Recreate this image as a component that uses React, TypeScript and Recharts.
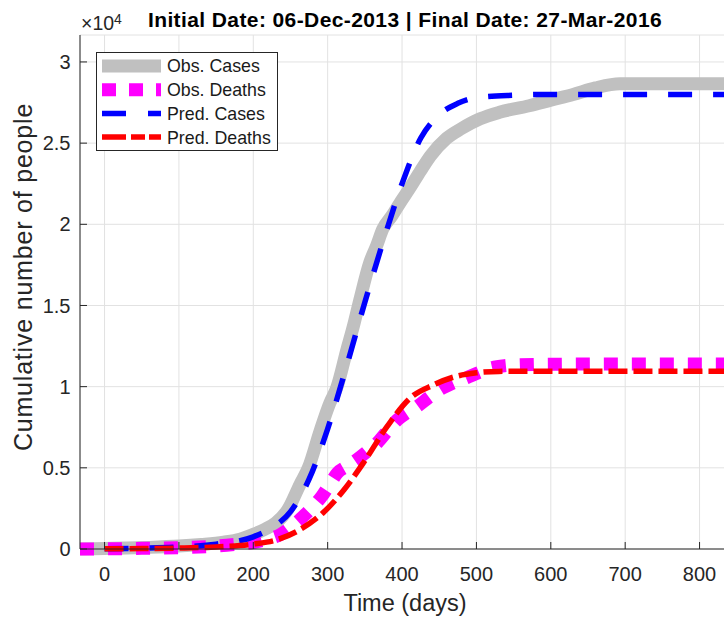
import React from 'react';
import { LineChart, Line, XAxis, YAxis, CartesianGrid, Legend } from 'recharts';

const FONT = '"Liberation Sans", Arial, Helvetica, sans-serif';
const AXIS = '#262626';

// observed cumulative cases (days since initial date)
const obsCaseDays = [-33, 0, 30, 60, 100, 130, 160, 182, 200, 215, 230, 246, 263, 274, 290, 303, 312, 326, 335, 343, 357, 366, 374, 386, 397, 410, 425, 438, 460, 480, 505, 531, 571, 600, 630, 660, 693, 750, 800, 840];
const obsCases = [0, 30, 60, 100, 180, 280, 420, 600, 900, 1200, 1600, 2400, 4000, 5000, 7300, 9000, 9900, 12300, 13800, 15300, 17700, 18700, 19700, 20500, 21300, 22200, 23300, 24200, 25300, 25900, 26500, 26900, 27300, 27650, 28000, 28400, 28650, 28650, 28650, 28650];

// observed cumulative deaths
const obsDeathDays = [-33, 0, 50, 100, 150, 180, 200, 220, 236, 252, 267, 280, 292, 303, 313, 326, 339, 353, 367, 380, 394, 407, 420, 435, 451, 470, 487, 505, 521, 540, 559, 600, 700, 840];
const obsDeaths = [0, 10, 40, 80, 180, 300, 400, 620, 880, 1400, 2000, 2600, 3240, 4000, 4680, 5100, 5500, 6000, 6550, 7250, 7970, 8400, 8770, 9300, 9820, 10250, 10550, 10900, 11170, 11300, 11350, 11380, 11400, 11400];

// model output
const predCaseDays = [0, 50, 100, 150, 200, 225, 250, 275, 300, 325, 350, 375, 400, 425, 450, 475, 500, 550, 600, 700, 840];
const predCases = [20, 50, 120, 300, 750, 1300, 2300, 4300, 7400, 11200, 15200, 19000, 22500, 25300, 26750, 27450, 27800, 27950, 28000, 28000, 28000];

const predDeathDays = [0, 50, 100, 150, 200, 232, 263, 294, 322, 348, 380, 411, 442, 470, 500, 530, 600, 700, 840];
const predDeaths = [10, 25, 60, 130, 300, 570, 1200, 2240, 3650, 5300, 7550, 9300, 10100, 10600, 10850, 10940, 10950, 10950, 10950];

const xTicks = [0, 100, 200, 300, 400, 500, 600, 700, 800];
const yTicks = [0, 5000, 10000, 15000, 20000, 25000, 30000];

const toPoints = (days: number[], vals: number[]) => days.map((x, i) => ({ x, y: vals[i] }));

const series = [
  { name: 'Obs. Cases', data: toPoints(obsCaseDays, obsCases), color: '#c0c0c0', width: 13, dash: undefined, legendDash: undefined },
  { name: 'Obs. Deaths', data: toPoints(obsDeathDays, obsDeaths), color: '#ff00ff', width: 13, dash: '14 14', legendDash: '14 13' },
  { name: 'Pred. Cases', data: toPoints(predCaseDays, predCases), color: '#0000ff', width: 5.5, dash: '24 21', legendDash: '24 22' },
  { name: 'Pred. Deaths', data: toPoints(predDeathDays, predDeaths), color: '#ff0000', width: 5.5, dash: '19 6', legendDash: '24 5 14 4 12' },
];

function LegendBox() {
  return (
    <svg width={182} height={99} style={{ display: 'block' }}>
      <rect x={0.5} y={0.5} width={181} height={98} fill="#fff" stroke={AXIS} />
      {series.map((s, i) => {
        const cy = 14 + i * 23.7;
        return (
          <g key={s.name}>
            <line x1={6} x2={65} y1={cy} y2={cy} stroke={s.color} strokeWidth={s.width} strokeDasharray={s.legendDash} />
            <text x={71} y={cy} dy="0.36em" fontSize={17.8} fill="#1a1a1a" fontFamily={FONT}>
              {s.name}
            </text>
          </g>
        );
      })}
    </svg>
  );
}

export default function App() {
  return (
    <div style={{ position: 'absolute', left: 0, top: 0, width: 724, height: 620, overflow: 'hidden', background: '#fff', fontFamily: FONT }}>
      <LineChart width={740} height={620} margin={{ top: 35, right: 10.7, bottom: 0, left: 0 }}>
        <CartesianGrid stroke="#e2e2e2" />
        <XAxis
          dataKey="x"
          type="number"
          domain={[-33, 840]}
          ticks={xTicks}
          height={71}
          stroke={AXIS}
          tickSize={-7}
          tickMargin={25}
          tick={{ fontSize: 20, fill: AXIS, fontFamily: FONT }}
        />
        <XAxis
          xAxisId="top"
          orientation="top"
          dataKey="x"
          type="number"
          domain={[-33, 840]}
          ticks={xTicks}
          height={0}
          stroke={AXIS}
          tickSize={-7}
          tick={false}
        />
        <YAxis
          dataKey="y"
          type="number"
          domain={[0, 31660]}
          ticks={yTicks}
          width={80}
          stroke={AXIS}
          tickSize={-7}
          tickMargin={16.5}
          tickFormatter={(v: number) => String(v / 10000)}
          tick={{ fontSize: 20, fill: AXIS, fontFamily: FONT }}
        />
        {series.map((s) => (
          <Line
            key={s.name}
            name={s.name}
            data={s.data}
            dataKey="y"
            type="monotone"
            stroke={s.color}
            strokeWidth={s.width}
            strokeDasharray={s.dash}
            dot={false}
            activeDot={false}
            isAnimationActive={false}
          />
        ))}
        <Legend
          layout="horizontal"
          verticalAlign="middle"
          align="center"
          content={() => <LegendBox />}
          wrapperStyle={{ left: 96, top: 52, width: 182, height: 99 }}
        />
      </LineChart>
      <svg width={724} height={620} style={{ position: 'absolute', left: 0, top: 0, pointerEvents: 'none' }}>
        <text x={405} y={26.5} textAnchor="middle" fontWeight="bold" fontSize={21} letterSpacing={0.4} fill="#000" fontFamily={FONT}>
          Initial Date: 06-Dec-2013 | Final Date: 27-Mar-2016
        </text>
        <text x={81} y={30} fontSize={19.5} fill={AXIS} fontFamily={FONT}>
          ×10<tspan dy={-6.5} fontSize={14}>4</tspan>
        </text>
        <text transform="translate(32, 277) rotate(-90)" textAnchor="middle" fontSize={25} letterSpacing={0.8} fill={AXIS} fontFamily={FONT}>
          Cumulative number of people
        </text>
        <text x={405} y={611} textAnchor="middle" fontSize={23.5} fill={AXIS} fontFamily={FONT}>
          Time (days)
        </text>
      </svg>
    </div>
  );
}
